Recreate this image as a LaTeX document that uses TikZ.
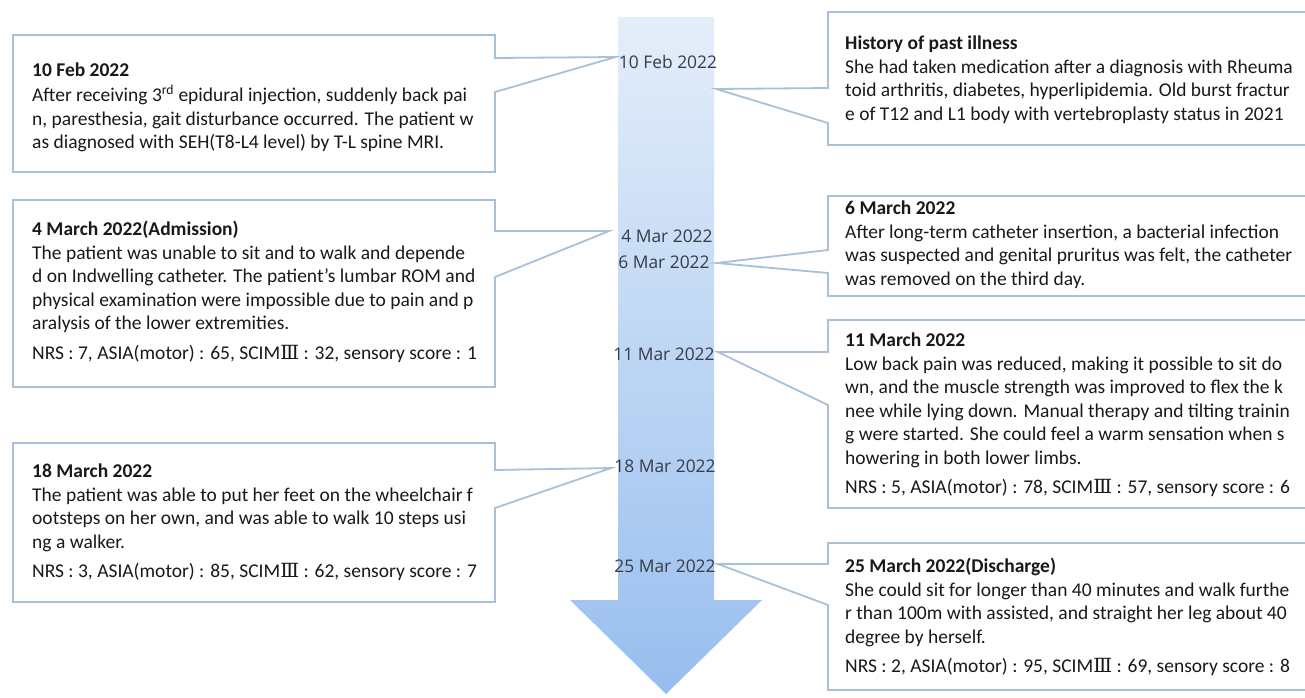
\documentclass[tikz,border=0pt]{standalone}
\usepackage{fontspec}
\setmainfont{Carlito}
\newfontfamily\datefont{Open Sans}
\newfontfamily\romanfont{DejaVu Serif}
\usetikzlibrary{positioning,calc}
\definecolor{edge}{RGB}{168,192,218}
\definecolor{shafttop}{RGB}{228,238,250}
\definecolor{shaftbot}{RGB}{152,190,238}
\definecolor{ink}{RGB}{25,25,25}
\definecolor{dateink}{RGB}{55,60,70}
\newcommand{\scimthree}{SCIM{\romanfont Ⅲ}}

\begin{document}
\begin{tikzpicture}[x=1pt, y=-1pt, font=\fontsize{19.5}{23.5}\selectfont,
  card/.style={draw=edge, line width=1.8pt, fill=white, line join=miter},
  body/.style={anchor=north west, align=left, text=ink, inner sep=0pt},
  datelbl/.style={font=\datefont\fontsize{17.4}{19}\selectfont, text=dateink, inner sep=0pt}]
\useasboundingbox (0,0) rectangle (1305,697);
\clip (0,0) rectangle (1305,697);

\shade[top color=shafttop, bottom color=shaftbot] (618,17) -- (714,17) -- (714,600) -- (762,600) -- (666,694) -- (570,600) -- (618,600) -- cycle;

\node[datelbl] (feb10) at (668,62) {10 Feb 2022};
\node[datelbl] (mar4) at (667,236) {4 Mar 2022};
\node[datelbl] (mar6) at (664,262) {6 Mar 2022};
\node[datelbl] (mar11) at (664,354) {11 Mar 2022};
\node[datelbl] (mar18) at (665,466) {18 Mar 2022};
\node[datelbl] (mar25) at (665,566) {25 Mar 2022};

\coordinate (tipL1) at ($(feb10.west)+(-3,-5)$);
\coordinate (tipL2) at ($(mar4.west)+(-12,-5)$);
\coordinate (tipL3) at ($(mar18.west)+(-3,2)$);
\coordinate (tipR1) at ($(feb10.east)+(-1,27)$);
\coordinate (tipR2) at ($(mar6.east)+(7,1)$);
\coordinate (tipR3) at ($(mar11.east)+(3,-2)$);
\coordinate (tipR4) at ($(mar25.east)+(2,-2)$);

\draw[card] (13,35) -- (495,35) -- (495,58) -- (tipL1) -- (495,92) -- (495,172) -- (13,172) -- cycle;
\draw[card] (13,200) -- (495,200) -- (495,231) -- (tipL2) -- (495,277) -- (495,387) -- (13,387) -- cycle;
\draw[card] (13,443) -- (495,443) -- (495,470) -- (tipL3) -- (495,508) -- (495,602) -- (13,602) -- cycle;
\draw[card] (1320,12) -- (828,12) -- (828,88) -- (tipR1) -- (828,123) -- (828,145) -- (1320,145);
\draw[card] (1320,196) -- (828,196) -- (828,250) -- (tipR2) -- (828,273) -- (828,296) -- (1320,296);
\draw[card] (1320,320) -- (828,320) -- (828,352) -- (tipR3) -- (828,405) -- (828,508) -- (1320,508);
\draw[card] (1320,543) -- (828,543) -- (828,564) -- (tipR4) -- (828,605) -- (828,690) -- (1320,690);

\node[body] (txtL1) at (32,60) {\strut\textbf{10 Feb 2022}\\
After receiving 3\textsuperscript{rd} epidural injection, suddenly back pai\\
n, paresthesia, gait disturbance occurred. The patient w\\
as diagnosed with SEH(T8-L4 level) by T-L spine MRI.};
\node[body] (txtL2) at (32,219) {\strut\textbf{4 March 2022(Admission)}\\
The patient was unable to sit and to walk and depende\\
d on Indwelling catheter. The patient's lumbar ROM and\\
physical examination were impossible due to pain and p\\
aralysis of the lower extremities.\\[6pt]
NRS : 7, ASIA(motor) : 65, \scimthree{} : 32, sensory score : 1};
\node[body] (txtL3) at (32,461) {\strut\textbf{18 March 2022}\\
The patient was able to put her feet on the wheelchair f\\
ootsteps on her own, and was able to walk 10 steps usi\\
ng a walker.\\[6pt]
NRS : 3, ASIA(motor) : 85, \scimthree{} : 62, sensory score : 7};
\node[body] (txtR1) at (845,33) {\strut\textbf{History of past illness}\\
She had taken medication after a diagnosis with Rheuma\\
toid arthritis, diabetes, hyperlipidemia. Old burst fractur\\
e of T12 and L1 body with vertebroplasty status in 2021};
\node[body] (txtR2) at (845,198) {\strut\textbf{6 March 2022}\\
After long-term catheter insertion, a bacterial infection\\
was suspected and genital pruritus was felt, the catheter\\
was removed on the third day.};
\node[body] (txtR3) at (845,330) {\strut\textbf{11 March 2022}\\
Low back pain was reduced, making it possible to sit do\\
wn, and the muscle strength was improved to flex the k\\
nee while lying down. Manual therapy and tilting trainin\\
g were started. She could feel a warm sensation when s\\
howering in both lower limbs.\\[6pt]
NRS : 5, ASIA(motor) : 78, \scimthree{} : 57, sensory score : 6};
\node[body] (txtR4) at (845,556) {\strut\textbf{25 March 2022(Discharge)}\\
She could sit for longer than 40 minutes and walk furthe\\
r than 100m with assisted, and straight her leg about 40\\
degree by herself.\\[6pt]
NRS : 2, ASIA(motor) : 95, \scimthree{} : 69, sensory score : 8};
\end{tikzpicture}
\end{document}
